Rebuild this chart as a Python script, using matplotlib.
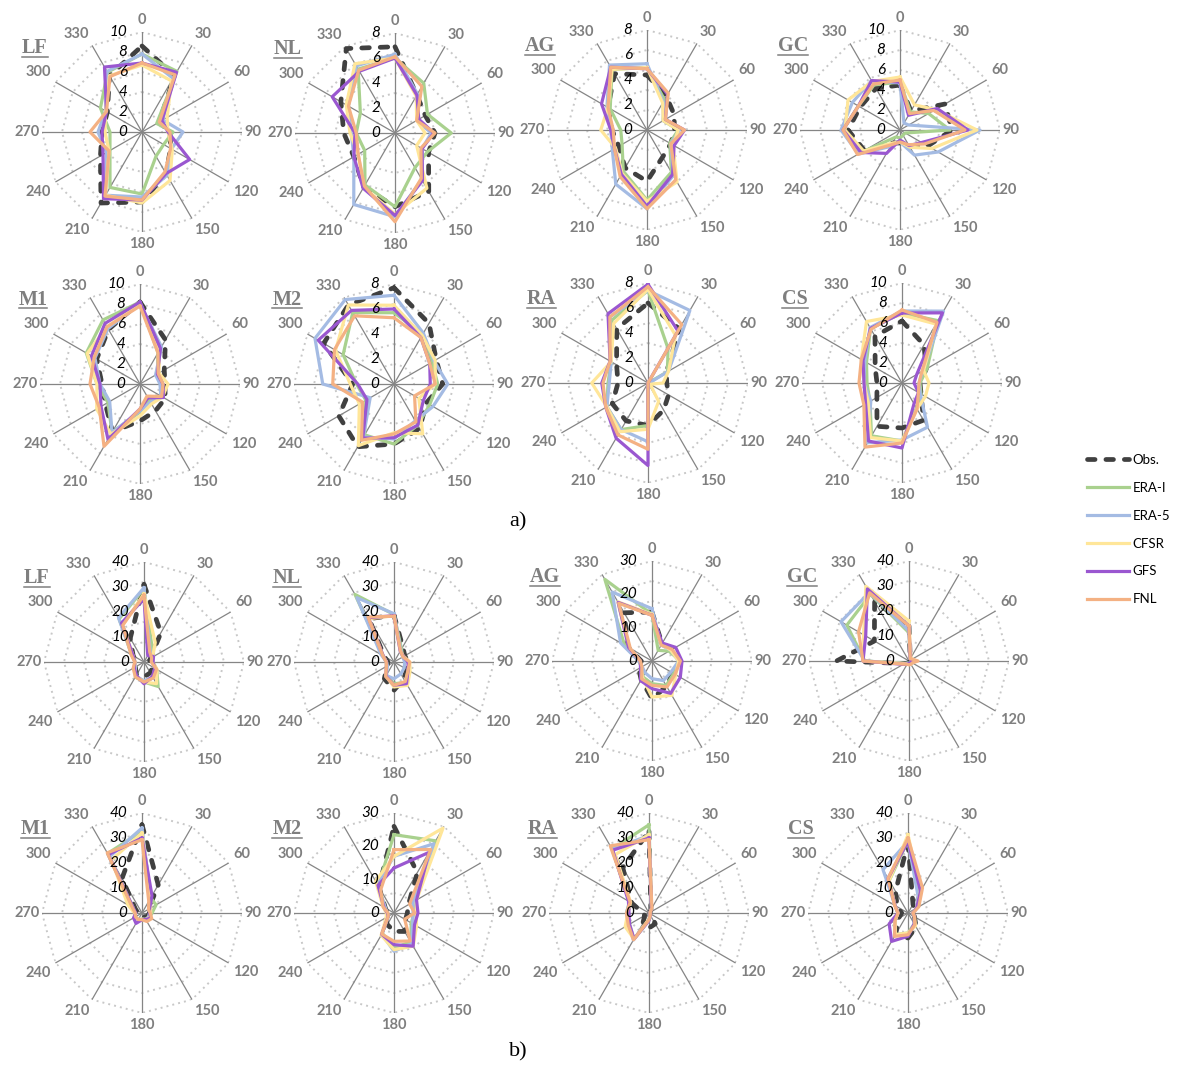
import numpy as np
import matplotlib
matplotlib.use("Agg")
import matplotlib.pyplot as plt
from matplotlib.lines import Line2D
from matplotlib.transforms import offset_copy

W, H, DPI = 1180, 1066, 100
R_PX = 100  # radius of every radar, in pixels

directions = [0, 30, 60, 90, 120, 150, 180, 210, 240, 270, 300, 330]
keys = ["obs", "erai", "era5", "cfsr", "gfs", "fnl"]
labels = ["Obs.", "ERA-I", "ERA-5", "CFSR", "GFS", "FNL"]

# ---------------- a) mean wind speed by direction ----------------
a_LF = dict(
    obs=[8.6, 6.5, 2.0, 2.8, 3.3, 4.8, 7.0, 8.2, 4.8, 4.0, 4.0, 6.5],
    erai=[7.8, 7.0, 1.7, 3.1, 2.5, 2.8, 6.2, 6.4, 3.7, 3.2, 4.8, 6.9],
    era5=[7.8, 6.2, 2.4, 4.1, 3.4, 5.0, 6.5, 7.3, 4.1, 4.4, 4.2, 7.0],
    cfsr=[6.7, 5.9, 2.9, 2.6, 3.5, 5.6, 7.1, 7.3, 3.8, 3.7, 4.2, 6.5],
    gfs=[6.9, 6.9, 2.3, 2.6, 5.5, 4.8, 6.8, 7.7, 4.5, 4.0, 4.1, 7.5],
    fnl=[6.9, 6.6, 2.0, 2.8, 3.3, 4.6, 6.8, 7.4, 3.8, 5.2, 4.1, 6.4],
)
a_NL = dict(
    obs=[6.9, 3.5, 2.8, 3.2, 3.1, 5.4, 5.9, 5.0, 3.8, 4.1, 5.0, 7.8],
    erai=[6.0, 4.6, 3.0, 4.5, 3.0, 3.2, 5.9, 4.8, 2.8, 3.1, 3.2, 5.9],
    era5=[6.3, 3.6, 2.0, 2.9, 2.5, 4.3, 6.7, 6.6, 3.8, 3.5, 4.3, 6.2],
    cfsr=[6.0, 3.4, 2.0, 2.4, 2.0, 5.1, 6.5, 5.0, 3.4, 3.6, 4.5, 6.4],
    gfs=[6.0, 3.5, 2.2, 3.1, 2.5, 4.4, 6.6, 5.1, 3.8, 3.2, 5.8, 5.7],
    fnl=[6.1, 4.3, 2.0, 3.2, 2.4, 4.2, 7.1, 4.9, 3.4, 3.1, 4.3, 5.8],
)
a_AG = dict(
    obs=[4.4, 3.1, 2.5, 2.2, 2.2, 2.5, 4.1, 3.5, 2.6, 2.8, 3.6, 5.2],
    erai=[5.0, 2.8, 1.5, 2.5, 2.1, 3.9, 5.6, 3.8, 2.3, 2.1, 3.4, 5.6],
    era5=[5.3, 2.6, 1.5, 2.6, 2.2, 4.2, 6.3, 5.0, 3.2, 2.9, 3.7, 6.0],
    cfsr=[5.0, 2.5, 1.5, 2.5, 2.4, 4.8, 5.7, 4.0, 2.9, 3.7, 3.6, 5.6],
    gfs=[4.9, 3.3, 1.7, 3.0, 2.5, 4.1, 6.1, 4.1, 3.0, 2.9, 4.2, 5.8],
    fnl=[4.9, 3.4, 1.7, 3.0, 2.2, 4.6, 6.3, 4.3, 3.0, 2.7, 3.6, 5.8],
)
a_GC = dict(
    obs=[4.5, 2.2, 5.2, 5.2, 3.2, 1.9, 1.3, 1.5, 4.1, 5.2, 4.6, 4.8],
    erai=[4.8, 2.1, 3.3, 5.0, 0.6, 0.6, 0.8, 0.8, 4.5, 5.7, 4.8, 5.2],
    era5=[4.7, 0.8, 1.0, 8.0, 4.4, 2.9, 1.2, 1.9, 4.8, 5.9, 5.5, 5.7],
    cfsr=[5.3, 2.9, 4.1, 7.7, 3.7, 2.0, 1.2, 1.5, 4.2, 5.5, 6.0, 5.6],
    gfs=[4.8, 1.7, 4.3, 6.8, 2.5, 1.8, 1.0, 2.7, 4.5, 5.7, 4.8, 5.7],
    fnl=[5.0, 1.9, 3.9, 6.5, 2.8, 1.7, 1.2, 1.7, 4.9, 5.7, 4.8, 5.3],
)
a_M1 = dict(
    obs=[8.2, 5.1, 2.8, 2.5, 2.9, 3.1, 3.7, 5.5, 4.0, 3.8, 5.0, 6.3],
    erai=[8.2, 3.6, 2.0, 2.3, 2.4, 1.9, 2.8, 5.6, 3.7, 4.3, 6.2, 7.4],
    era5=[8.0, 4.3, 1.8, 2.0, 2.4, 2.1, 2.7, 5.6, 3.5, 4.0, 5.2, 6.4],
    cfsr=[8.0, 3.9, 2.2, 2.8, 2.6, 2.3, 3.2, 5.8, 5.0, 4.3, 6.1, 6.6],
    gfs=[8.2, 4.1, 2.0, 2.3, 2.7, 1.6, 2.5, 6.4, 4.5, 4.0, 5.6, 7.0],
    fnl=[7.8, 3.6, 2.1, 2.3, 2.5, 1.4, 2.5, 7.2, 4.7, 5.0, 5.3, 6.6],
)
a_M2 = dict(
    obs=[7.7, 5.6, 3.9, 3.9, 3.0, 4.1, 4.8, 5.8, 5.1, 3.3, 6.5, 7.3],
    erai=[5.7, 4.6, 3.5, 3.5, 3.3, 3.8, 4.8, 4.7, 2.6, 3.0, 4.7, 6.6],
    era5=[7.1, 4.7, 3.7, 4.3, 3.6, 3.4, 4.4, 4.9, 2.2, 5.7, 7.3, 7.8],
    cfsr=[6.3, 4.5, 3.8, 3.3, 2.3, 4.6, 3.9, 5.7, 3.2, 3.5, 5.4, 7.3],
    gfs=[6.0, 4.3, 3.3, 2.9, 2.7, 3.8, 4.3, 5.0, 2.5, 2.9, 7.0, 6.8],
    fnl=[5.3, 4.3, 3.3, 3.3, 1.9, 3.5, 4.0, 5.2, 2.9, 4.9, 5.5, 6.3],
)
a_RA = dict(
    obs=[6.4, 5.0, 1.7, 1.5, 1.9, 2.5, 3.4, 3.5, 3.3, 2.4, 2.9, 5.0],
    erai=[7.4, 3.2, 1.8, 0.0, 0.0, 0.0, 3.4, 4.3, 3.8, 3.2, 3.4, 5.8],
    era5=[7.4, 6.7, 1.9, 0.1, 0.0, 0.0, 4.7, 4.3, 3.8, 3.1, 3.4, 6.1],
    cfsr=[7.5, 4.4, 1.9, 1.2, 0.2, 1.7, 3.7, 4.5, 3.8, 4.5, 3.4, 5.5],
    gfs=[7.9, 4.8, 0.0, 0.0, 0.0, 0.0, 6.6, 5.1, 3.9, 3.7, 3.5, 6.4],
    fnl=[7.7, 5.4, 0.0, 0.0, 0.0, 0.0, 5.3, 4.8, 3.9, 3.6, 3.5, 6.1],
)
a_CS = dict(
    obs=[6.2, 4.4, 2.8, 1.8, 2.2, 4.3, 4.5, 5.0, 2.9, 2.5, 3.1, 5.4],
    erai=[7.0, 7.2, 2.9, 1.8, 2.2, 2.9, 5.8, 6.1, 3.7, 3.5, 4.1, 6.3],
    era5=[7.2, 8.3, 2.4, 1.7, 2.1, 5.1, 5.7, 6.9, 3.6, 3.8, 4.3, 6.4],
    cfsr=[6.8, 6.8, 2.5, 2.7, 2.7, 3.0, 5.8, 6.3, 3.9, 3.8, 4.7, 7.1],
    gfs=[7.0, 8.1, 1.7, 1.2, 1.9, 2.4, 6.5, 6.7, 4.2, 3.8, 4.5, 6.3],
    fnl=[7.3, 7.0, 2.3, 1.7, 1.9, 3.0, 6.0, 7.4, 4.4, 4.3, 4.7, 6.2],
)

# ---------------- b) frequency by direction ----------------
b_LF = dict(
    obs=[31.0, 13.5, 3.0, 2.0, 4.0, 5.0, 6.0, 6.0, 4.0, 3.0, 5.0, 11.0],
    erai=[29.3, 6.5, 4.0, 3.6, 5.9, 11.3, 8.0, 6.9, 4.0, 3.5, 5.7, 19.9],
    era5=[29.7, 5.0, 4.0, 3.5, 5.0, 7.0, 7.5, 6.5, 4.0, 3.5, 5.5, 20.4],
    cfsr=[27.3, 9.0, 4.0, 3.5, 6.0, 10.0, 8.0, 6.5, 4.5, 3.5, 5.0, 17.0],
    gfs=[25.3, 3.0, 4.4, 3.6, 5.0, 6.7, 8.7, 6.2, 4.5, 3.7, 5.0, 18.0],
    fnl=[26.7, 4.6, 3.5, 2.9, 5.8, 7.4, 8.0, 6.9, 5.0, 3.7, 6.0, 17.0],
)
b_NL = dict(
    obs=[18.7, 7.0, 5.0, 5.6, 5.9, 7.8, 11.3, 7.7, 3.3, 2.4, 4.5, 20.0],
    erai=[19.0, 6.0, 4.0, 6.0, 6.5, 9.4, 8.7, 6.0, 3.5, 3.0, 5.0, 31.2],
    era5=[19.3, 5.5, 4.0, 4.3, 4.7, 5.5, 6.7, 6.2, 3.0, 3.0, 6.0, 29.7],
    cfsr=[18.5, 5.0, 4.5, 6.3, 7.4, 10.8, 10.0, 6.5, 3.5, 3.0, 5.0, 20.0],
    gfs=[18.5, 5.0, 4.3, 5.6, 6.5, 10.0, 9.3, 6.5, 3.5, 3.0, 5.0, 20.5],
    fnl=[18.3, 5.2, 4.1, 6.3, 6.5, 9.0, 9.3, 6.7, 3.5, 3.1, 5.2, 20.8],
)
b_AG = dict(
    obs=[14.7, 6.0, 7.2, 8.5, 7.1, 8.8, 11.3, 6.5, 4.6, 3.2, 8.3, 16.7],
    erai=[14.0, 3.7, 5.9, 8.5, 7.5, 8.5, 6.8, 5.5, 3.6, 4.0, 9.5, 28.3],
    era5=[15.7, 5.5, 6.5, 8.0, 6.6, 6.8, 5.3, 4.1, 3.4, 4.0, 10.9, 23.9],
    cfsr=[14.0, 5.8, 6.5, 8.0, 8.2, 11.9, 10.8, 5.7, 3.8, 3.5, 8.0, 20.5],
    gfs=[13.7, 6.2, 8.2, 9.0, 9.8, 11.2, 8.3, 6.8, 4.0, 3.5, 8.1, 20.3],
    fnl=[13.7, 5.5, 7.0, 8.5, 8.0, 9.0, 7.3, 6.2, 3.5, 3.5, 7.5, 20.0],
)
b_GC = dict(
    obs=[14.0, 1.0, 0.5, 0.5, 0.5, 0.5, 0.5, 1.0, 2.0, 29.0, 16.0, 27.5],
    erai=[11.3, 1.0, 1.0, 1.5, 1.0, 1.0, 1.0, 1.0, 2.0, 17.7, 28.7, 30.8],
    era5=[12.0, 1.0, 1.0, 2.0, 1.0, 1.0, 1.0, 1.0, 2.0, 17.7, 31.4, 31.7],
    cfsr=[16.0, 1.5, 1.5, 3.0, 1.5, 1.5, 1.5, 1.5, 2.0, 18.4, 21.0, 34.5],
    gfs=[14.0, 1.0, 1.0, 2.3, 1.0, 1.0, 1.0, 1.5, 2.7, 18.4, 20.0, 33.3],
    fnl=[14.0, 1.0, 1.5, 3.6, 1.5, 1.5, 1.5, 1.5, 2.5, 18.4, 23.3, 31.5],
)
b_M1 = dict(
    obs=[35.3, 13.0, 3.0, 3.0, 2.5, 2.0, 1.5, 1.5, 1.5, 1.5, 3.0, 16.0],
    erai=[32.7, 7.0, 6.5, 4.0, 3.5, 3.0, 2.5, 3.0, 3.0, 3.0, 4.0, 27.5],
    era5=[34.0, 7.0, 4.0, 3.0, 3.0, 3.0, 2.5, 3.0, 3.0, 3.0, 4.5, 26.0],
    cfsr=[32.0, 7.0, 4.0, 3.5, 3.5, 3.0, 2.5, 3.0, 3.0, 3.0, 6.5, 24.5],
    gfs=[30.0, 8.0, 3.5, 3.0, 4.0, 3.0, 2.7, 4.8, 3.9, 2.5, 4.0, 27.0],
    fnl=[29.3, 5.4, 3.0, 3.3, 4.5, 3.9, 2.7, 3.0, 3.0, 2.7, 4.5, 27.8],
)
b_M2 = dict(
    obs=[26.0, 14.0, 5.0, 4.0, 4.0, 6.4, 5.5, 4.0, 3.0, 2.0, 3.0, 9.0],
    erai=[23.5, 25.0, 6.6, 6.0, 6.0, 10.0, 10.5, 7.0, 2.0, 2.0, 3.0, 9.5],
    era5=[17.0, 24.0, 6.6, 5.7, 6.5, 10.6, 11.5, 7.3, 2.0, 2.0, 3.0, 10.0],
    cfsr=[17.0, 29.4, 7.8, 6.7, 7.8, 11.5, 11.0, 7.7, 2.7, 2.3, 3.8, 11.0],
    gfs=[13.5, 21.0, 7.8, 7.2, 7.1, 11.5, 9.5, 7.4, 2.0, 2.0, 3.5, 9.6],
    fnl=[19.0, 22.0, 5.4, 6.2, 3.7, 9.7, 8.5, 7.3, 2.0, 1.8, 3.8, 8.0],
)
b_RA = dict(
    obs=[32.7, 1.5, 0.5, 0.5, 1.0, 5.0, 6.0, 5.0, 2.0, 2.4, 8.0, 21.0],
    erai=[35.3, 2.0, 0.5, 0.5, 0.5, 1.0, 2.5, 12.0, 9.0, 9.0, 9.0, 29.5],
    era5=[31.0, 2.0, 0.5, 0.5, 0.5, 1.0, 3.0, 12.5, 9.5, 9.0, 9.0, 29.5],
    cfsr=[31.3, 2.0, 0.5, 0.5, 0.5, 1.0, 2.5, 12.0, 11.0, 8.5, 8.5, 27.0],
    gfs=[30.0, 2.0, 0.5, 0.5, 0.5, 1.0, 3.0, 12.0, 9.0, 8.0, 9.5, 29.0],
    fnl=[29.3, 2.3, 0.5, 0.5, 0.5, 1.0, 2.7, 12.4, 9.6, 9.0, 8.7, 31.0],
)
b_CS = dict(
    obs=[28.0, 4.0, 3.0, 2.0, 3.0, 6.5, 10.0, 9.8, 4.5, 2.5, 5.0, 10.0],
    erai=[29.0, 9.0, 4.0, 2.0, 3.0, 5.0, 8.0, 10.0, 6.0, 4.0, 6.0, 15.0],
    era5=[28.7, 8.0, 4.0, 2.0, 3.0, 5.0, 9.0, 10.0, 6.0, 4.0, 6.0, 20.0],
    cfsr=[31.3, 10.0, 4.0, 2.0, 3.0, 6.0, 8.0, 10.0, 6.0, 4.0, 6.0, 15.0],
    gfs=[28.7, 10.0, 4.0, 2.0, 3.0, 5.0, 9.3, 13.1, 8.7, 4.0, 6.0, 16.0],
    fnl=[30.0, 11.6, 5.0, 2.0, 3.0, 5.4, 8.7, 10.8, 6.0, 4.0, 6.2, 16.0],
)

# station, values, radial maximum, radial label step
panels = [
    ("LF", a_LF, 10, 2), ("NL", a_NL, 8, 2), ("AG", a_AG, 8, 2), ("GC", a_GC, 10, 2),
    ("M1", a_M1, 10, 2), ("M2", a_M2, 8, 2), ("RA", a_RA, 8, 2), ("CS", a_CS, 10, 2),
    ("LF", b_LF, 40, 10), ("NL", b_NL, 40, 10), ("AG", b_AG, 30, 10), ("GC", b_GC, 40, 10),
    ("M1", b_M1, 40, 10), ("M2", b_M2, 30, 10), ("RA", b_RA, 40, 10), ("CS", b_CS, 40, 10),
]

# radar centres in pixels (x from left, y from top)
centers = [
    (142, 132), (395, 133), (647, 130), (900, 130),
    (140, 384), (394, 384), (648, 383), (902, 383),
    (144, 662), (394, 662), (652, 661), (909, 661),
    (142, 913), (394, 913), (649, 913), (908, 913),
]

styles = {
    "obs": dict(color="#404040", lw=3.4, ls=(0, (1.6, 2.3)),
                dash_capstyle="round", dash_joinstyle="round"),
    "erai": dict(color="#A9D18E", lw=2.3, solid_joinstyle="round"),
    "era5": dict(color="#A4BBE3", lw=2.3, solid_joinstyle="round"),
    "cfsr": dict(color="#FFE699", lw=2.3, solid_joinstyle="round"),
    "gfs": dict(color="#9A57D0", lw=2.3, solid_joinstyle="round"),
    "fnl": dict(color="#F4B183", lw=2.3, solid_joinstyle="round"),
}

SANS = "Lato"
SERIF = "Liberation Serif"
GREY = "#7F7F7F"

fig = plt.figure(figsize=(W / DPI, H / DPI), dpi=DPI)
fig.patch.set_facecolor("white")

theta = np.deg2rad(directions)
theta_c = np.append(theta, theta[0])
titles = []
legend_lines = None

for (name, data, rmax, step), (cx, cy) in zip(panels, centers):
    ax = fig.add_axes([(cx - R_PX) / W, 1 - (cy + R_PX) / H, 2 * R_PX / W, 2 * R_PX / H],
                      projection="polar")
    ax.set_theta_zero_location("N")
    ax.set_theta_direction(-1)
    ax.set_ylim(0, rmax)
    ax.axis("off")

    # dotted polygonal rings and solid spokes
    for k in range(1, 6):
        ax.plot(theta_c, np.full(theta_c.size, rmax * k / 5), color="#C8C8C8",
                lw=1.4, ls=(0, (1.0, 2.1)), zorder=1)
    for t in theta:
        ax.plot([t, t], [0, rmax], color="#858585", lw=0.9, zorder=1.5)

    lines = []
    for i, key in enumerate(keys):
        vals = list(data[key])
        ln, = ax.plot(theta_c, vals + vals[:1], zorder=2 + i * 0.1, label=labels[i],
                      **styles[key])
        lines.append(ln)
    if legend_lines is None:
        legend_lines = lines

    # radial value labels along the 0-degree spoke
    tr = offset_copy(ax.transData, fig=fig, x=-15, y=0, units="dots")
    for v in range(0, rmax + 1, step):
        ax.text(0, v, str(v), transform=tr, ha="right", va="center", fontsize=11,
                style="italic", family=SANS, color="black", clip_on=False, zorder=5)

    # direction labels around the rim
    for d, t in zip(directions, theta):
        s, c = np.sin(t), np.cos(t)
        ha = "left" if s > 0.1 else ("right" if s < -0.1 else "center")
        va = "bottom" if c > 0.1 else ("top" if c < -0.1 else "center")
        gap = 1.02 if abs(c) < 0.1 else 1.05
        ax.text(t, rmax * gap, str(d), ha=ha, va=va, fontsize=10.5, fontweight="bold",
                family=SANS, color=GREY, clip_on=False, zorder=5)

    titles.append(fig.text((cx - 107) / W, 1 - (cy - 84) / H, name, ha="center",
                           va="center", fontsize=14.5, fontweight="bold",
                           family=SERIF, color=GREY))

fig.text(518 / W, 1 - 522 / H, "a)", ha="center", va="center", fontsize=16, family=SERIF)
fig.text(518 / W, 1 - 1052 / H, "b)", ha="center", va="center", fontsize=16, family=SERIF)

fig.legend(handles=legend_lines, loc="upper left",
           bbox_to_anchor=(1087 / W, 1 - 454 / H), frameon=False,
           prop=dict(family=SANS, size=9.5), handlelength=3.2, handletextpad=0.25,
           labelspacing=1.2, borderpad=0, borderaxespad=0)

# underline the station names
fig.canvas.draw()
renderer = fig.canvas.get_renderer()
for t in titles:
    bb = t.get_window_extent(renderer)
    y = bb.y0 + 1.5
    fig.add_artist(Line2D([bb.x0 / W, bb.x1 / W], [y / H, y / H], color=GREY, lw=1.1,
                          transform=fig.transFigure))

fig.savefig("out.png", dpi=DPI, facecolor="white")
